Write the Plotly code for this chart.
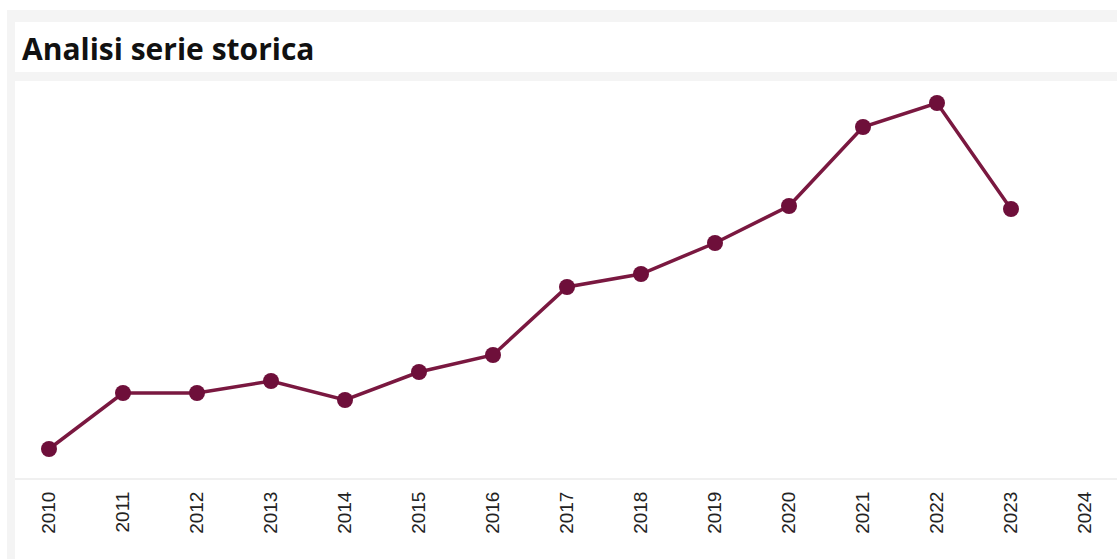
import plotly.graph_objects as go

years = [2010, 2011, 2012, 2013, 2014, 2015, 2016, 2017, 2018, 2019, 2020, 2021, 2022, 2023]
values = [31, 87, 87, 99, 80, 108, 125, 193, 206, 237, 274, 353, 377, 271]
tick_years = list(range(2010, 2025))
tick_labels = [str(y) for y in tick_years]
title_text = "Analisi serie storica"

W, H = 1117, 559
L, R, T, B = 15, 0, 82, 81
pw, ph = W - L - R, H - T - B

def px(x):
    return (x - L) / pw

def py(y):
    return (H - B - y) / ph

fig = go.Figure()
fig.add_trace(go.Scatter(
    x=years, y=values, mode="lines+markers",
    line=dict(color="#7a1840", width=3.5),
    marker=dict(color="#6e0f3a", size=16),
    hoverinfo="x+y", showlegend=False,
))

shapes = [
    dict(type="rect", xref="paper", yref="paper", x0=px(7), x1=px(W + 5), y0=py(H + 5), y1=py(10),
         fillcolor="#f4f4f4", line=dict(width=0), layer="below"),
    dict(type="rect", xref="paper", yref="paper", x0=px(15), x1=px(W + 5), y0=py(72), y1=py(22),
         fillcolor="#ffffff", line=dict(width=0), layer="below"),
    dict(type="rect", xref="paper", yref="paper", x0=px(15), x1=px(W + 5), y0=py(H + 5), y1=py(81),
         fillcolor="#ffffff", line=dict(width=0), layer="below"),
]

fig.update_layout(
    width=W, height=H,
    margin=dict(l=L, r=R, t=T, b=B, pad=0),
    paper_bgcolor="#ffffff",
    plot_bgcolor="rgba(0,0,0,0)",
    shapes=shapes,
    annotations=[dict(
        text=f"<b>{title_text}</b>", xref="paper", yref="paper",
        x=px(20), y=py(48), xanchor="left", yanchor="middle", showarrow=False,
        font=dict(family="Open Sans", size=30, color="#111111"),
    )],
    xaxis=dict(
        range=[2010 - (49 - L) / 74, 2010 + (W - R - 49) / 74],
        tickmode="array", tickvals=tick_years, ticktext=tick_labels,
        tickangle=-90, showgrid=False, zeroline=False,
        showline=True, linecolor="#f0f0f0", linewidth=2,
        ticks="outside", ticklen=4, tickcolor="rgba(0,0,0,0)",
        tickfont=dict(family="Liberation Sans", size=19, color="#222222"),
        fixedrange=True,
    ),
    yaxis=dict(
        range=[2, 398],
        showgrid=False, zeroline=False, showticklabels=False, showline=False,
        fixedrange=True,
    ),
)

fig.write_html("out.html")
